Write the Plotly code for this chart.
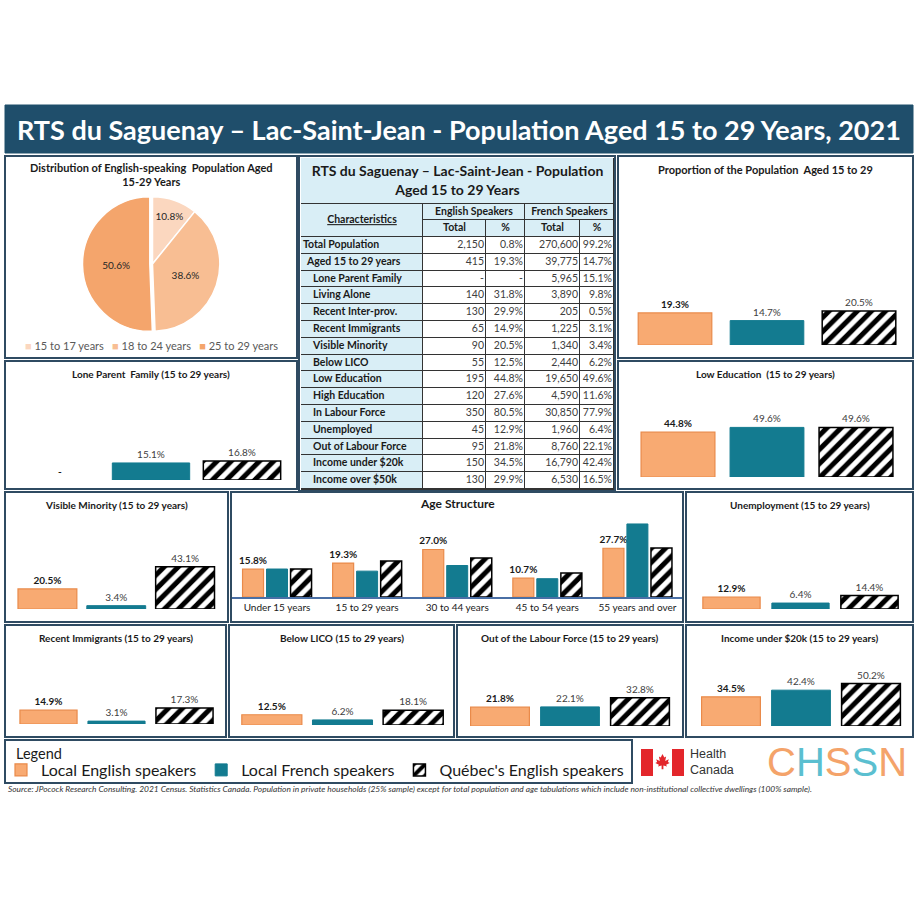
import copy
import plotly.graph_objects as go

W, H = 918, 900


def px(x):
    return x / W


def py(y):
    return 1 - y / H


# ---------------- DATA ----------------
series = ["Local English speakers", "Local French speakers", "Québec's English speakers"]

pie_labels = ["15 to 17 years", "18 to 24 years", "25 to 29 years"]
pie_values = [10.8, 38.6, 50.6]

proportion = [19.3, 14.7, 20.5]
lone_parent = [None, 15.1, 16.8]
low_education = [44.8, 49.6, 49.6]
visible_minority = [20.5, 3.4, 43.1]
unemployment = [12.9, 6.4, 14.4]
recent_immigrants = [14.9, 3.1, 17.3]
below_lico = [12.5, 6.2, 18.1]
out_labour = [21.8, 22.1, 32.8]
income_20k = [34.5, 42.4, 50.2]

age_groups = ["Under 15 years", "15 to 29 years", "30 to 44 years", "45 to 54 years", "55 years and over"]
age_english = [15.8, 19.3, 27.0, 10.7, 27.7]
age_french = [15.9, 14.7, 17.9, 10.4, 41.5]
age_quebec = [15.9, 20.5, 22.1, 13.6, 27.8]

table_title = "RTS du Saguenay – Lac-Saint-Jean - Population<br>Aged 15 to 29 Years"
group_headers = ["English Speakers", "French Speakers"]
sub_headers = ["Total", "%", "Total", "%"]
char_labels = ["Total Population", "Aged 15 to 29 years", "Lone Parent Family", "Living Alone",
               "Recent Inter-prov.", "Recent Immigrants", "Visible Minority", "Below LICO",
               "Low Education", "High Education", "In Labour Force", "Unemployed",
               "Out of Labour Force", "Income under $20k", "Income over $50k"]
char_level = [0, 1, 2, 2, 2, 2, 2, 2, 2, 2, 2, 2, 2, 2, 2]
eng_total = [2150, 415, None, 140, 130, 65, 90, 55, 195, 120, 350, 45, 95, 150, 130]
eng_pct = [0.8, 19.3, None, 31.8, 29.9, 14.9, 20.5, 12.5, 44.8, 27.6, 80.5, 12.9, 21.8, 34.5, 29.9]
fr_total = [270600, 39775, 5965, 3890, 205, 1225, 1340, 2440, 19650, 4590, 30850, 1960, 8760, 16790, 6530]
fr_pct = [99.2, 14.7, 15.1, 9.8, 0.5, 3.1, 3.4, 6.2, 49.6, 11.6, 77.9, 6.4, 22.1, 42.4, 16.5]

# ---------------- STYLE ----------------
FONT = "Lato"
DARK = "#2f4b62"
TITLEBAR = "#1f4e6b"
LIGHTBLUE = "#d9eef6"
GRID = "#333333"
ORANGE = "#f8aa72"
ORANGE_LINE = "#e98a4a"
TEAL = "#137b90"
pie_colors = ["#fbd7bf", "#f8be93", "#f4a56c"]

MARKERS = [
    dict(color=ORANGE, line=dict(color=ORANGE_LINE, width=1.2)),
    dict(color=TEAL, line=dict(color=TEAL, width=1)),
    dict(color="white", line=dict(color="black", width=1.5),
         pattern=dict(shape="/", fgcolor="black", bgcolor="white", fgopacity=1, size=10, solidity=0.5)),
]
TEXTFONTS = [
    dict(family=FONT, size=10, color="#1a1a1a", weight="bold"),
    dict(family=FONT, size=10, color="#404040"),
    dict(family=FONT, size=10, color="#404040"),
]

fig = go.Figure()
layout = {}
annotations = []
shapes = []


def note(text, x, y, size=10, color="#1a1a1a", xanchor="center", family=FONT, align="center"):
    annotations.append(dict(text=text, x=px(x), y=py(y), xref="paper", yref="paper", showarrow=False,
                            xanchor=xanchor, yanchor="middle", align=align,
                            font=dict(family=family, size=size, color=color)))


def ax_names(n):
    return ("x", "y") if n == 1 else (f"x{n}", f"y{n}")


# ---------------- PIE ----------------
fig.add_trace(go.Pie(
    labels=pie_labels, values=pie_values, sort=False, direction="clockwise", rotation=0,
    marker=dict(colors=pie_colors, line=dict(color="white", width=1.5)),
    texttemplate="%{value:.1f}%", textposition="inside", insidetextorientation="horizontal",
    textfont=dict(family=FONT, size=10, color="#262626"), pull=[0, 0, 0.04],
    domain=dict(x=[px(20), px(285)], y=[py(334), py(194)]), showlegend=False,
    hoverinfo="skip"))
pie_key = "\u2003".join(f"<span style='color:{c}'>■</span> {lab}" for c, lab in zip(pie_colors, pie_labels))
note(pie_key, 151, 345, size=11, color="#595959")

# ---------------- SMALL BAR PANELS ----------------
# (values, title, title size, panel rect, x-domain, baseline, top, px per %, bar width)
small_panels = [
    (proportion, "Proportion of the Population  Aged 15 to 29", 11, (618, 156, 913, 358), (629, 905), 345, 200, 1.66, 0.80),
    (lone_parent, "Lone Parent  Family (15 to 29 years)", 10, (5, 361, 297, 489), (14.5, 287.5), 480, 395, 1.13, 0.85),
    (low_education, "Low Education  (15 to 29 years)", 10, (618, 361, 913, 489), (633.5, 900.5), 477, 395, 1.0, 0.83),
    (visible_minority, "Visible Minority (15 to 29 years)", 10, (5, 492, 228, 622), (13, 219.5), 609, 520, 0.98, 0.855),
    (unemployment, "Unemployment (15 to 29 years)", 10, (686, 492, 913, 622), (697, 904), 609, 520, 0.93, 0.83),
    (recent_immigrants, "Recent Immigrants (15 to 29 years)", 10, (5, 625, 226, 737), (14.5, 218.5), 724, 650, 0.93, 0.84),
    (below_lico, "Below LICO (15 to 29 years)", 10, (229, 625, 454, 737), (236.5, 448.5), 725, 650, 0.82, 0.85),
    (out_labour, "Out of the Labour Force (15 to 29 years)", 10, (457, 625, 683, 737), (465, 675), 726, 650, 0.865, 0.84),
    (income_20k, "Income under $20k (15 to 29 years)", 10, (686, 625, 913, 737), (696, 906), 726, 650, 0.845, 0.84),
]

n = 0
for values, title, tsize, rect, xd, base, top, ppp, bw in small_panels:
    n += 1
    xa, ya = ax_names(n)
    for i, s in enumerate(series):
        v = values[i]
        mk = copy.deepcopy(MARKERS[i])
        if v is None:
            mk["line"]["width"] = 0
        fig.add_trace(go.Bar(
            x=[s], y=[v if v is not None else 0],
            text=[f"{v:.1f}%" if v is not None else "-"],
            textposition="outside", cliponaxis=False, constraintext="none",
            width=bw, marker=mk, textfont=TEXTFONTS[i],
            name=s, legend="legend", legendgroup=s, showlegend=(n == 1),
            xaxis=xa, yaxis=ya, hoverinfo="skip"))
    layout["xaxis" if n == 1 else f"xaxis{n}"] = dict(
        domain=[px(xd[0]), px(xd[1])], anchor=ya, visible=False, type="category",
        range=[-0.5, 2.5], fixedrange=True)
    layout["yaxis" if n == 1 else f"yaxis{n}"] = dict(
        domain=[py(base), py(top)], anchor=xa, visible=False, range=[0, (base - top) / ppp],
        fixedrange=True)
    x0, y0, x1, y1 = rect
    note(f"<b>{title}</b>", (x0 + x1) / 2, y0 + 13, size=tsize)

# ---------------- AGE STRUCTURE ----------------
n += 1
xa, ya = ax_names(n)
age_series = [age_english, age_french, age_quebec]
offsets = [-0.383, -0.117, 0.150]
for i, s in enumerate(series):
    fig.add_trace(go.Bar(
        x=age_groups, y=age_series[i],
        text=[f"{v:.1f}%" for v in age_series[i]] if i == 0 else None,
        textposition="outside" if i == 0 else "none", cliponaxis=False, constraintext="none",
        width=0.233, offset=offsets[i], marker=MARKERS[i], textfont=TEXTFONTS[i],
        name=s, legend="legend", legendgroup=s, showlegend=False,
        xaxis=xa, yaxis=ya, hoverinfo="skip"))
layout[f"xaxis{n}"] = dict(domain=[px(232), px(682.5)], anchor=ya, type="category",
                           range=[-0.5, 4.5], showline=True, linecolor="#4a6fa5", linewidth=1.5,
                           ticks="", showgrid=False, fixedrange=True,
                           tickfont=dict(family=FONT, size=10, color="#1a1a1a"))
layout[f"yaxis{n}"] = dict(domain=[py(597), py(515)], anchor=xa, visible=False,
                           range=[0, (597 - 515) / 1.76], fixedrange=True)
note("<b>Age Structure</b>", 457, 503, size=12)

# ---------------- TABLE (heatmap bricks + text on its own axes) ----------------
n += 1
xa, ya = ax_names(n)
T_X0, T_X1, T_Y0, T_Y1 = 301, 614, 158, 490
col_w = [122, 63, 39, 55, 34]
edges = [T_X0]
for w_ in col_w:
    edges.append(edges[-1] + w_)
title_y = (158, 204)
group_y = (204, 220)
sub_y = (220, 237)
row_h = (T_Y1 - 1 - sub_y[1]) / len(char_labels)
row_edges = [sub_y[1] + i * row_h for i in range(len(char_labels) + 1)]
row_mid = [(row_edges[i] + row_edges[i + 1]) / 2 for i in range(len(char_labels))]

BR = dict(colorscale=[[0, "white"], [1, LIGHTBLUE]], zmin=0, zmax=1, showscale=False,
          xgap=1, ygap=1, hoverinfo="skip", xaxis=xa, yaxis=ya)
fig.add_trace(go.Heatmap(x=[edges[0], edges[-1]], y=list(title_y), z=[[1]], **BR))
fig.add_trace(go.Heatmap(x=[edges[0], edges[1]], y=[group_y[0], sub_y[1]], z=[[1]], **BR))
fig.add_trace(go.Heatmap(x=[edges[1], edges[3], edges[5]], y=list(group_y), z=[[1, 1]], **BR))
fig.add_trace(go.Heatmap(x=edges[1:], y=list(sub_y), z=[[1, 1, 1, 1]], **BR))
fig.add_trace(go.Heatmap(x=edges, y=row_edges, z=[[1, 0, 0, 0, 0] for _ in char_labels], **BR))

TXT = dict(mode="text", xaxis=xa, yaxis=ya, hoverinfo="skip", showlegend=False, cliponaxis=False)
HDR = dict(family=FONT, size=10.5, color="#1a1a1a", weight="bold")
fig.add_trace(go.Scatter(x=[(edges[0] + edges[-1]) / 2], y=[sum(title_y) / 2 + 1], text=[f"<b>{table_title}</b>"],
                         textfont=dict(family=FONT, size=14, color="#1a1a1a"), **TXT))
fig.add_trace(go.Scatter(x=[(edges[0] + edges[1]) / 2], y=[(group_y[0] + sub_y[1]) / 2],
                         text=["<u>Characteristics</u>"], textfont=HDR, **TXT))
fig.add_trace(go.Scatter(x=[(edges[1] + edges[3]) / 2, (edges[3] + edges[5]) / 2],
                         y=[sum(group_y) / 2] * 2, text=group_headers, textfont=HDR, **TXT))
fig.add_trace(go.Scatter(x=[(edges[i] + edges[i + 1]) / 2 for i in range(1, 5)], y=[sum(sub_y) / 2] * 4,
                         text=sub_headers, textfont=HDR, **TXT))
indent_px = {0: 2, 1: 6, 2: 12}
fig.add_trace(go.Scatter(x=[edges[0] + indent_px[l] for l in char_level], y=row_mid, text=char_labels,
                         textposition="middle right", textfont=dict(family=FONT, size=10.5, color="#1a1a1a",
                                                                    weight="bold"), **TXT))


def fmt_int(v):
    return "-" if v is None else f"{v:,}"


def fmt_pct(v):
    return "-" if v is None else f"{v:.1f}%"


num_cols = [[fmt_int(v) for v in eng_total], [fmt_pct(v) for v in eng_pct],
            [fmt_int(v) for v in fr_total], [fmt_pct(v) for v in fr_pct]]
for ci, col in enumerate(num_cols):
    fig.add_trace(go.Scatter(x=[edges[ci + 2] - 2] * len(col), y=row_mid, text=col,
                             textposition="middle left",
                             textfont=dict(family=FONT, size=10.5, color="#404040"), **TXT))

layout[f"xaxis{n}"] = dict(domain=[px(T_X0), px(T_X1)], anchor=ya, range=[T_X0, T_X1], visible=False,
                           fixedrange=True)
layout[f"yaxis{n}"] = dict(domain=[py(T_Y1), py(T_Y0)], anchor=xa, range=[T_Y1, T_Y0], visible=False,
                           fixedrange=True)
shapes.append(dict(type="rect", xref="paper", yref="paper", x0=px(T_X0), x1=px(T_X1), y0=py(T_Y1), y1=py(T_Y0),
                   fillcolor=GRID, line=dict(width=0), layer="below"))

note("<b>Distribution of English-speaking  Population Aged<br>15-29 Years</b>", 151, 175, size=11)

# ---------------- FRAMES ----------------
shapes.append(dict(type="rect", xref="paper", yref="paper", x0=px(5), x1=px(913), y0=py(153), y1=py(105),
                   fillcolor=TITLEBAR, line=dict(color=TITLEBAR, width=1), layer="below"))
note("<b>RTS du Saguenay – Lac-Saint-Jean - Population Aged 15 to 29 Years, 2021</b>", 459, 130,
     size=27, color="white")

panel_rects = [(5, 156, 297, 358), (299, 156, 615, 491)] + [p[3] for p in small_panels] + \
              [(231, 492, 683, 622), (5, 740, 632, 783)]
for x0, y0, x1, y1 in panel_rects:
    shapes.append(dict(type="rect", xref="paper", yref="paper", x0=px(x0), x1=px(x1), y0=py(y1), y1=py(y0),
                       line=dict(color=DARK, width=2), fillcolor="rgba(0,0,0,0)"))

note("Legend", 14, 753, size=14.5, xanchor="left")

# ---------------- LOGOS ----------------
RED = "#e3262b"
for fx0, fx1 in [(641, 653), (672, 684)]:
    shapes.append(dict(type="rect", xref="paper", yref="paper", x0=px(fx0), x1=px(fx1), y0=py(776), y1=py(749),
                       fillcolor=RED, line=dict(width=0)))
leaf = [(0, -9), (2, -5), (4, -6), (3, -1), (7, -3), (6, 0), (8, 1), (4, 3), (5, 5), (1, 4), (1, 8),
        (-1, 8), (-1, 4), (-5, 5), (-4, 3), (-8, 1), (-6, 0), (-7, -3), (-3, -1), (-4, -6), (-2, -5)]
cx, cy = 662.5, 762
path = "M " + " L ".join(f"{px(cx + dx * 0.9):.5f},{py(cy + dy * 0.9):.5f}" for dx, dy in leaf) + " Z"
shapes.append(dict(type="path", xref="paper", yref="paper", path=path, fillcolor=RED, line=dict(width=0)))
note("Health<br>Canada", 688, 762, size=12.5, color="#333333", xanchor="left", family="Liberation Sans",
     align="left")
note("<span style='color:#f4a36a'>C</span><span style='color:#5bbfd0'>H</span>"
     "<span style='color:#f4a36a'>S</span><span style='color:#5bbfd0'>S</span>"
     "<span style='color:#f4a36a'>N</span>", 837, 762, size=40, family="Liberation Sans")

note("<i>Source: JPocock Research Consulting. 2021 Census. Statistics Canada. Population in private households "
     "(25% sample) except for total population and age tabulations which include non-institutional collective "
     "dwellings (100% sample).</i>", 6, 789, size=8.4, color="#333333", xanchor="left")

fig.update_layout(
    width=W, height=H, margin=dict(l=0, r=0, t=0, b=0, autoexpand=False),
    paper_bgcolor="white", plot_bgcolor="rgba(0,0,0,0)",
    font=dict(family=FONT, color="#1a1a1a"),
    barmode="overlay", showlegend=True,
    annotations=annotations, shapes=shapes,
    legend=dict(orientation="h", x=px(1), y=py(753), xanchor="left", yanchor="top",
                font=dict(family=FONT, size=16, color="#1a1a1a"), bgcolor="rgba(0,0,0,0)",
                itemwidth=30, tracegroupgap=0),
    **layout,
)

fig.write_html("out.html", config={"displayModeBar": False},
               post_script="document.body.style.margin='0px';document.body.style.overflow='hidden';")
